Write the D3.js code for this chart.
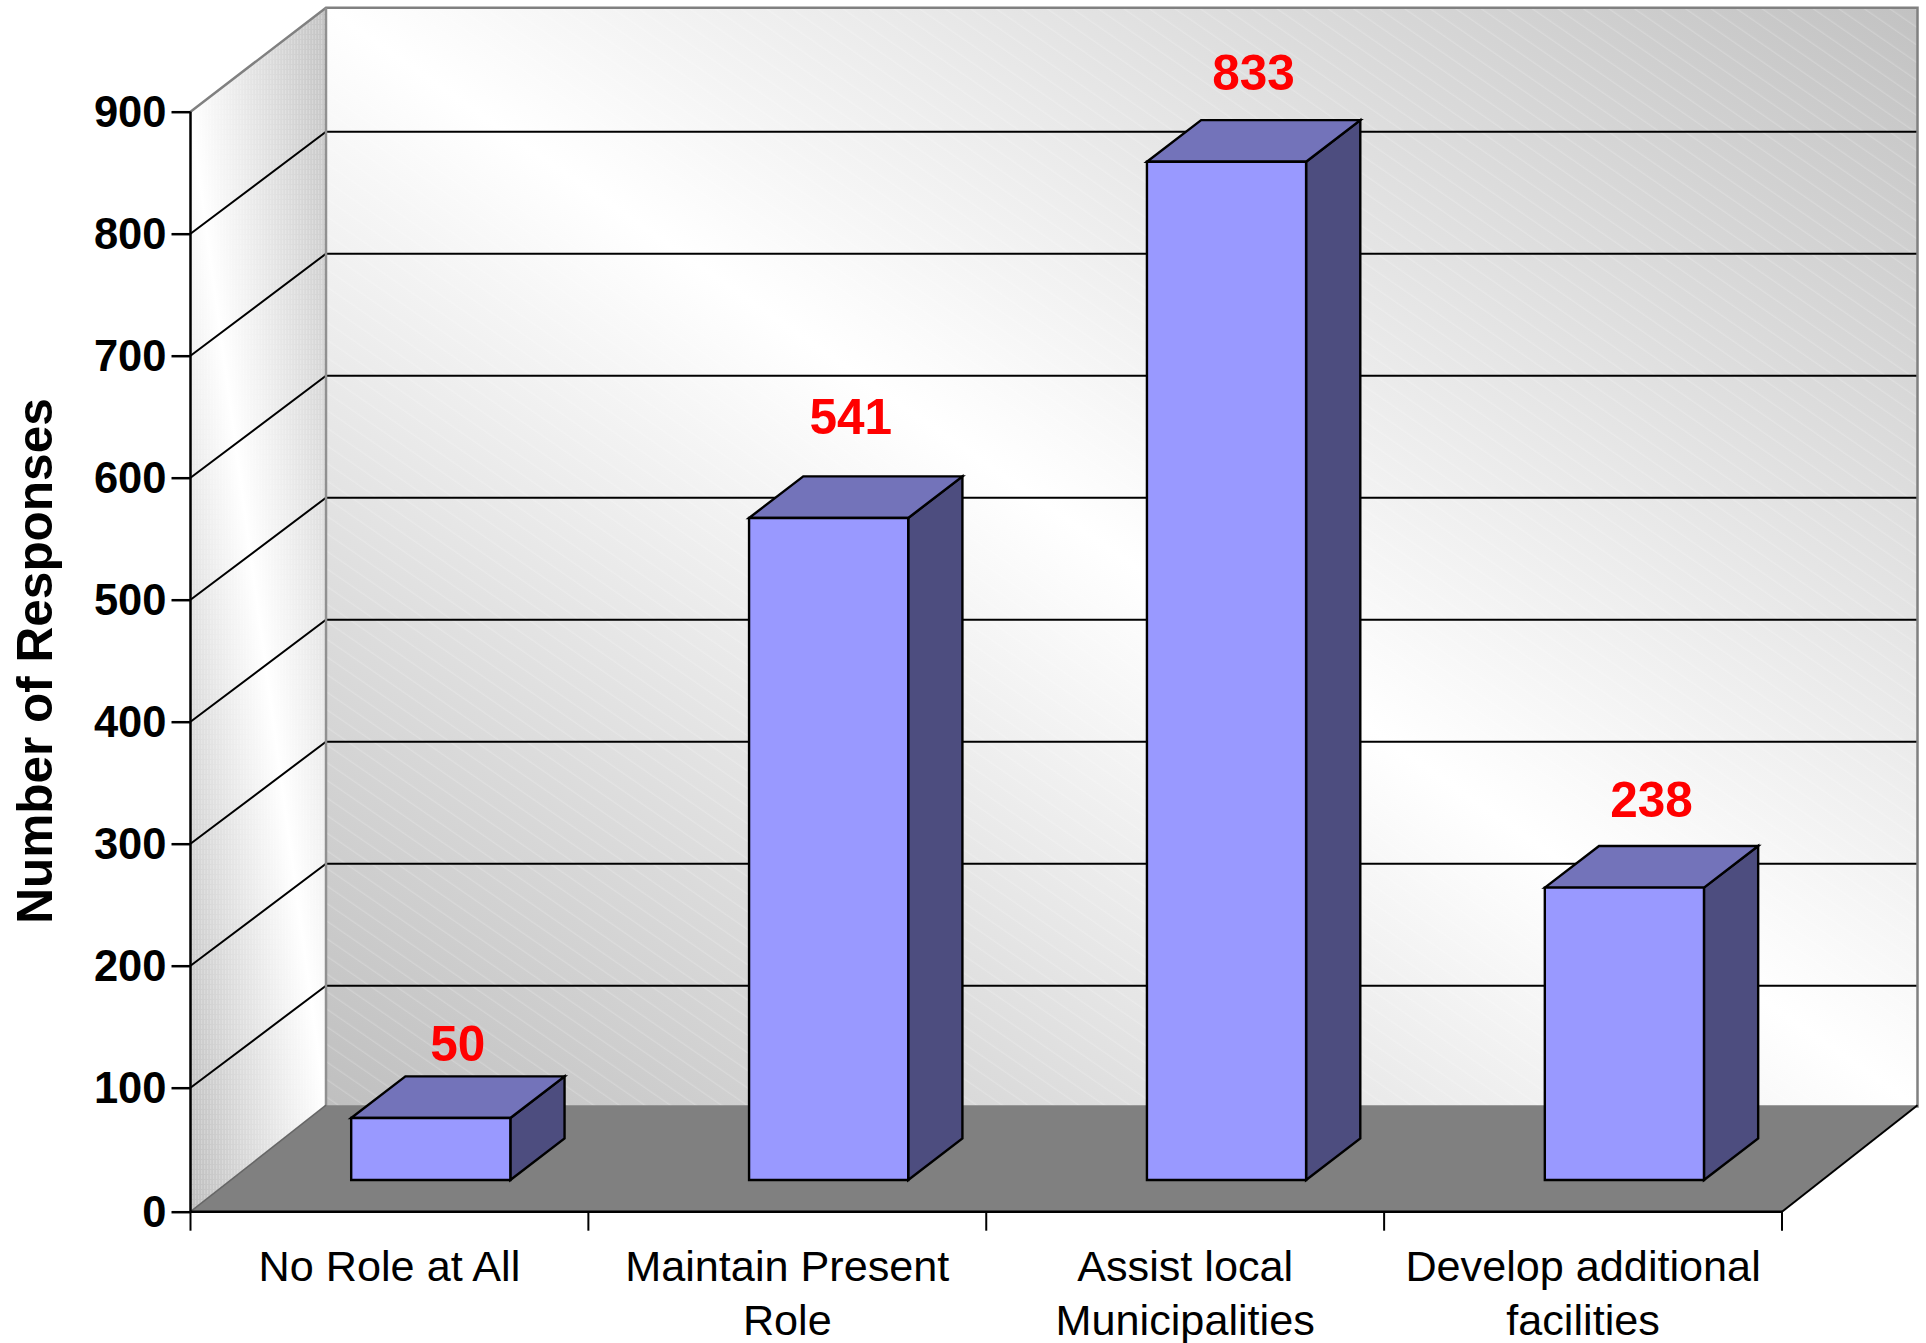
<!DOCTYPE html>
<html>
<head>
<meta charset="utf-8">
<style>
  body { margin: 0; background: #fff; }
  svg { display: block; }
  text { font-family: "Liberation Sans", Arial, sans-serif; }
</style>
<script src="https://cdn.jsdelivr.net/npm/d3@7"></script>
</head>
<body>
<div id="chart"></div>
<script>
const categories = [
  ["No Role at All"],
  ["Maintain Present", "Role"],
  ["Assist local", "Municipalities"],
  ["Develop additional", "facilities"]
];
const responses = [50, 541, 833, 238];
const yTicks = [0, 100, 200, 300, 400, 500, 600, 700, 800, 900];
const yTitle = "Number of Responses";

// the original places its labels by hand, so they don't sit evenly over the bars
const labelLift = [15, 42, 30, 29];
const labelShift = [0, -5, 0, 0];

const width = 1926;
const height = 1343;

const svg = d3.select("#chart").append("svg")
  .attr("width", width)
  .attr("height", height);

const x = d3.scaleBand()
  .domain(d3.range(categories.length))
  .range([190.5, 1782])
  .paddingInner(0.6)
  .paddingOuter(0.3);

// the zero line sits 2px lower than the even tick spacing would put it
const y = d3.scaleLinear().domain([0, 100, 900]).range([1211.7, 1087.7, 111.7]);

// depth of the box: 0 is the front of the floor, 1 the back wall
const depthX = d3.scaleLinear().domain([0, 1]).range([0, 135.5]);
const depthY = d3.scaleLinear().domain([0, 1]).range([0, -104]);
const barFront = 0.305;
const barBack = 0.705;
const gridDrop = 2;
const floorRise = 2.5;

const pt = (px, value, z) => [px + depthX(z), y(value) + depthY(z)];
const poly = (points) => "M" + points.map((p) => p.join(",")).join("L") + "Z";

const x0 = x.range()[0];
const x1 = x.range()[1];
const maxTick = yTicks[yTicks.length - 1];

const defs = svg.append("defs");

function gradient(id, a, b, stops) {
  const g = defs.append("linearGradient")
    .attr("id", id)
    .attr("gradientUnits", "userSpaceOnUse")
    .attr("x1", a[0]).attr("y1", a[1])
    .attr("x2", b[0]).attr("y2", b[1]);
  stops.forEach((s) => g.append("stop").attr("offset", s[0]).attr("stop-color", s[1]));
}

gradient("backWall", [608, 1302], [1636, -187], [
  [0, "#bfbfbf"], [0.5, "#ffffff"], [1, "#c2c2c2"]
]);
// side wall shades to the back at the top and to the front at the bottom
gradient("sideWall", [111, 630], [405, 590], [
  [0, "#bdbdbd"], [0.5, "#ffffff"], [1, "#c2c2c2"]
]);

// faint banding on the back wall
const bands = defs.append("pattern")
  .attr("id", "bands")
  .attr("patternUnits", "userSpaceOnUse")
  .attr("width", 40)
  .attr("height", 14.5)
  .attr("patternTransform", "rotate(34.6)");
bands.append("line")
  .attr("x1", 0).attr("x2", 40).attr("y1", 7).attr("y2", 7)
  .attr("stroke", "#fff").attr("stroke-opacity", 0.25).attr("stroke-width", 1);

// dither on the side wall
const dither = defs.append("pattern")
  .attr("id", "dither")
  .attr("patternUnits", "userSpaceOnUse")
  .attr("width", 3)
  .attr("height", 5);
dither.append("rect")
  .attr("width", 1.2).attr("height", 4)
  .attr("fill", "#fff").attr("fill-opacity", 0.22);

// back wall
const backWall = poly([pt(x0, 0, 1), pt(x0, maxTick, 1), pt(x1, maxTick, 1), pt(x1, 0, 1)]);
svg.append("path").attr("d", backWall).attr("fill", "url(#backWall)");
svg.append("path").attr("d", backWall).attr("fill", "url(#bands)");

// side wall
const sideWall = poly([pt(x0, 0, 0), pt(x0, maxTick, 0), pt(x0, maxTick, 1), pt(x0, 0, 1)]);
svg.append("path").attr("d", sideWall).attr("fill", "url(#sideWall)");
svg.append("path").attr("d", sideWall).attr("fill", "url(#dither)");

// gridlines run up the side wall and across the back wall
const gridTicks = yTicks.filter((t) => t > 0 && t < maxTick);
svg.append("g").selectAll("path").data(gridTicks).enter().append("path")
  .attr("d", (t) => {
    const a = pt(x0, t, 1);
    const b = pt(x1, t, 1);
    return d3.line()([pt(x0, t, 0), [a[0], a[1] + gridDrop], [b[0], b[1] + gridDrop]]);
  })
  .attr("fill", "none")
  .attr("stroke", "#000")
  .attr("stroke-width", 2);

// wall outline
svg.append("path")
  .attr("d", d3.line()([pt(x0, maxTick, 0), pt(x0, maxTick, 1), pt(x1, maxTick, 1), pt(x1, 0, 1)]))
  .attr("fill", "none").attr("stroke", "#808080").attr("stroke-width", 2.5);
svg.append("path")
  .attr("d", d3.line()([pt(x0, maxTick, 1), pt(x0, 0, 1)]))
  .attr("fill", "none").attr("stroke", "#909090").attr("stroke-width", 2.5);

// floor
const floorBack = (px) => {
  const p = pt(px, 0, 1);
  return [p[0], p[1] - floorRise];
};
svg.append("path")
  .attr("d", poly([pt(x0, 0, 0), floorBack(x0), floorBack(x1), pt(x1, 0, 0)]))
  .attr("fill", "#808080");
svg.append("path")
  .attr("d", d3.line()([pt(x0, 0, 0), floorBack(x0)]))
  .attr("fill", "none").attr("stroke", "#666").attr("stroke-width", 1.5);
svg.append("path")
  .attr("d", d3.line()([pt(x1, 0, 0), floorBack(x1)]))
  .attr("fill", "none").attr("stroke", "#000").attr("stroke-width", 2);

// bars
const bars = svg.append("g").selectAll("g").data(responses).enter().append("g")
  .attr("stroke", "#000")
  .attr("stroke-width", 2.4)
  .attr("stroke-linejoin", "miter");

bars.append("path")
  .attr("d", (d, i) => {
    const r = x(i) + x.bandwidth();
    return poly([pt(r, 0, barFront), pt(r, d, barFront), pt(r, d, barBack), pt(r, 0, barBack)]);
  })
  .attr("fill", "#4d4d7f");
bars.append("path")
  .attr("d", (d, i) => {
    const l = x(i);
    const r = l + x.bandwidth();
    return poly([pt(l, d, barFront), pt(l, d, barBack), pt(r, d, barBack), pt(r, d, barFront)]);
  })
  .attr("fill", "#7373ba");
bars.append("path")
  .attr("d", (d, i) => {
    const l = x(i);
    const r = l + x.bandwidth();
    return poly([pt(l, 0, barFront), pt(l, d, barFront), pt(r, d, barFront), pt(r, 0, barFront)]);
  })
  .attr("fill", "#9999ff");

// value labels
svg.append("g").selectAll("text").data(responses).enter().append("text")
  .attr("x", (d, i) => pt(x(i) + x.bandwidth() / 2, d, (barFront + barBack) / 2)[0] + labelShift[i])
  .attr("y", (d, i) => pt(0, d, barBack)[1] - labelLift[i])
  .attr("text-anchor", "middle")
  .attr("fill", "#ff0000")
  .attr("font-size", 49.5)
  .attr("font-weight", 700)
  .text((d) => d);

// y axis
const yAxis = svg.append("g")
  .attr("transform", `translate(${x0},0)`)
  .call(d3.axisLeft(y).tickValues(yTicks).tickSize(19).tickPadding(5).tickFormat(d3.format("d")));
yAxis.selectAll("line,path").attr("stroke", "#000").attr("stroke-width", 2.5);
yAxis.select(".domain").attr("d", `M0,${y(maxTick)}V${y(0)}`);
yAxis.selectAll("text")
  .attr("fill", "#000")
  .attr("dy", "0.35em")
  .attr("font-size", 43.5)
  .attr("font-weight", 700)
  .attr("font-family", '"Liberation Sans", Arial, sans-serif');

svg.append("text")
  .attr("transform", "translate(52,661) rotate(-90)")
  .attr("text-anchor", "middle")
  .attr("font-size", 49.5)
  .attr("font-weight", 700)
  .text(yTitle);

// x axis, ticks sit on the slot edges
svg.append("path")
  .attr("d", d3.line()([[x0, y(0)], [x1, y(0)]]))
  .attr("stroke", "#000").attr("stroke-width", 2.5);
svg.append("g").selectAll("line").data(d3.range(categories.length + 1)).enter().append("line")
  .attr("x1", (i) => x0 + i * x.step())
  .attr("x2", (i) => x0 + i * x.step())
  .attr("y1", y(0))
  .attr("y2", y(0) + 19)
  .attr("stroke", "#000")
  .attr("stroke-width", 2);

svg.append("g").selectAll("text").data(categories).enter().append("text")
  .attr("text-anchor", "middle")
  .attr("font-size", 43.2)
  .attr("fill", "#000")
  .each(function (lines, i) {
    d3.select(this).selectAll("tspan").data(lines).enter().append("tspan")
      .attr("x", x0 + (i + 0.5) * x.step())
      .attr("y", (d, j) => 1281 + j * 53.5)
      .text((d) => d);
  });
</script>
</body>
</html>
